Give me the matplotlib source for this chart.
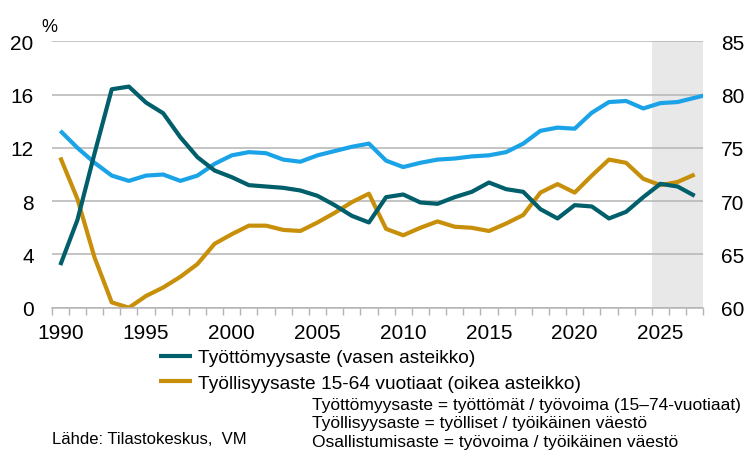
import numpy as np
import matplotlib.pyplot as plt
from matplotlib.ticker import MultipleLocator, FixedLocator

plt.rcParams['font.family'] = ['Liberation Sans', 'DejaVu Sans']

vuodet = list(range(1990, 2028))

# Työttömyysaste, % (vasen asteikko)
tyottomyys = [3.2, 6.6, 11.6, 16.4, 16.6, 15.4, 14.6, 12.8, 11.3, 10.3,
              9.8, 9.2, 9.1, 9.0, 8.8, 8.4, 7.7, 6.9, 6.4, 8.3,
              8.5, 7.9, 7.8, 8.3, 8.7, 9.4, 8.9, 8.7, 7.4, 6.7,
              7.7, 7.6, 6.7, 7.2, 8.3, 9.3, 9.1, 8.4]

# Työllisyysaste 15-64 v, % (oikea asteikko)
tyollisyys = [74.1, 70.2, 64.7, 60.5, 60.0, 61.1, 61.9, 62.9, 64.1, 66.0,
              66.9, 67.7, 67.7, 67.3, 67.2, 68.0, 68.9, 69.9, 70.7, 67.4,
              66.8, 67.5, 68.1, 67.6, 67.5, 67.2, 67.9, 68.7, 70.8, 71.6,
              70.8, 72.4, 73.9, 73.6, 72.1, 71.5, 71.8, 72.5]

# Osallistumisaste, % (oikea asteikko), viimeinen arvo jatkuu kuvan reunaan
osallistuminen = [76.6, 75.0, 73.6, 72.4, 71.9, 72.4, 72.5, 71.9, 72.4, 73.5,
                  74.3, 74.6, 74.5, 73.9, 73.7, 74.3, 74.7, 75.1, 75.4, 73.8,
                  73.2, 73.6, 73.9, 74.0, 74.2, 74.3, 74.6, 75.4, 76.6, 76.9,
                  76.8, 78.3, 79.3, 79.4, 78.7, 79.2, 79.3, 79.7, 80.1]
vuodet_os = vuodet + [2028]

ennuste_alku = 2025

teal = '#005f6b'
sininen = '#1ba3e8'
kulta = '#c8900a'
harmaa = '#b4b4b4'

fig = plt.figure(figsize=(7.52, 4.52), dpi=100)
ax = fig.add_axes([0.0688, 0.317, 0.8664, 0.5894])
ax2 = ax.twinx()
ax.set_zorder(ax2.get_zorder() + 1)
ax.patch.set_visible(False)

ax2.axvspan(ennuste_alku - 0.5, vuodet[-1] + 0.5, color='#e8e8e8', lw=0, zorder=0)
for v in range(60, 86, 5):
    ax2.axhline(v, color=harmaa, lw=1.1, zorder=1)

ax2.plot(vuodet, tyollisyys, color=kulta, lw=3, solid_capstyle='butt', zorder=3,
         label='Työllisyysaste 15-64 vuotiaat (oikea asteikko)')
ax2.plot(vuodet_os, osallistuminen, color=sininen, lw=3, solid_capstyle='butt', zorder=3)
ax.plot(vuodet, tyottomyys, color=teal, lw=3, solid_capstyle='butt',
        label='Työttömyysaste (vasen asteikko)')

ax.set_xlim(vuodet[0] - 0.5, vuodet[-1] + 0.5)
ax.set_ylim(0, 20)
ax2.set_ylim(60, 85)
ax.yaxis.set_major_locator(MultipleLocator(4))
ax2.yaxis.set_major_locator(MultipleLocator(5))

ax.set_xticks(range(1990, 2028, 5))
ax.xaxis.set_minor_locator(FixedLocator(np.arange(vuodet[0] - 0.5, vuodet[-1] + 1, 1)))
ax.tick_params(axis='x', which='major', length=0, pad=11, labelsize=15)
ax.tick_params(axis='x', which='minor', length=5, width=1, color=harmaa, direction='out')
ax.tick_params(axis='y', length=0, pad=13, labelsize=15)
ax2.tick_params(axis='y', length=0, pad=13, labelsize=15)

for a in (ax, ax2):
    for s in a.spines.values():
        s.set_visible(False)
ax.spines['bottom'].set_visible(True)
ax.spines['bottom'].set_color(harmaa)
ax.spines['bottom'].set_linewidth(1.1)

fig.text(0.055, 0.94, '%', fontsize=13, ha='left', va='center')

h1, l1 = ax.get_legend_handles_labels()
h2, l2 = ax2.get_legend_handles_labels()
fig.legend(h1 + h2, l1 + l2, loc='upper left', bbox_to_anchor=(0.212, 0.226),
           frameon=False, fontsize=13.8, handlelength=1.7, handletextpad=0.3,
           labelspacing=0.42, borderaxespad=0, borderpad=0)

fig.text(0.415, 0.103, 'Työttömyysaste = työttömät / työvoima (15–74-vuotiaat)',
         fontsize=12.5, ha='left', va='center')
fig.text(0.415, 0.062, 'Työllisyysaste = työlliset / työikäinen väestö',
         fontsize=12.5, ha='left', va='center')
fig.text(0.415, 0.02, 'Osallistumisaste = työvoima / työikäinen väestö',
         fontsize=12.5, ha='left', va='center')
fig.text(0.069, 0.027, 'Lähde: Tilastokeskus,  VM', fontsize=12, ha='left', va='center')

fig.savefig('out.png', dpi=100)
